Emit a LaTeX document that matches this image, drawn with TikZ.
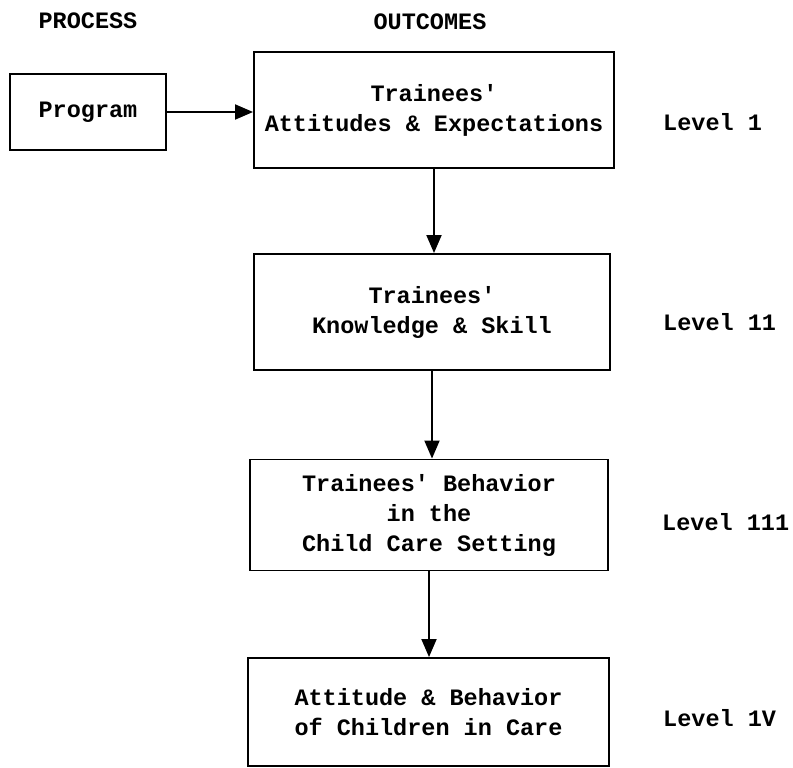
\documentclass[tikz,border=0pt]{standalone}
\usepackage{fontspec}
\newfontfamily\tw{Liberation Mono}[BoldFont={Liberation Mono Bold}]
\usetikzlibrary{arrows.meta}
\newcommand{\apos}{\textquotesingle}
\begin{document}
\begin{tikzpicture}[x=1pt,y=-1pt,
  every node/.style={font=\tw\bfseries\fontsize{23.5}{30}\selectfont, inner sep=0pt},
  box/.style={draw, line width=1.9pt, align=center},
  conn/.style={line width=1.9pt, -{Triangle[length=18pt,width=15pt]}},
  lvl/.style={anchor=west}]
\useasboundingbox (0,0) rectangle (793,768);
\node (hp) at (88,21) {PROCESS};
\node (ho) at (430,22) {OUTCOMES};
\node[box, minimum width=156pt, minimum height=76pt] (prog) at (88,112) {Program};
\node[box, minimum width=360pt, minimum height=116pt] (b1) at (434,110) {Trainees\apos\\Attitudes \& Expectations};
\node[box, minimum width=356pt, minimum height=116pt] (b2) at (432,312) {Trainees\apos\\Knowledge \& Skill};
\node[box, minimum width=358pt, minimum height=111pt] (b3) at (429,515) {Trainees\apos{} Behavior\\in the\\Child Care Setting};
\node[box, minimum width=361pt, minimum height=108pt] (b4) at (428.5,712) {Attitude \& Behavior\\of Children in Care};
\node[lvl] (l1) at (663,122) {Level 1};
\node[lvl] (l2) at (663,322) {Level 11};
\node[lvl] (l3) at (662,522) {Level 111};
\node[lvl] (l4) at (663,718) {Level 1V};
\draw[conn] (prog.east) -- (prog.east -| b1.west);
\draw[conn] (b1.south) -- (b1.south |- b2.north);
\draw[conn] (b2.south) -- (b2.south |- b3.north);
\draw[conn] (b3.south) -- (b3.south |- b4.north);
\end{tikzpicture}
\end{document}
